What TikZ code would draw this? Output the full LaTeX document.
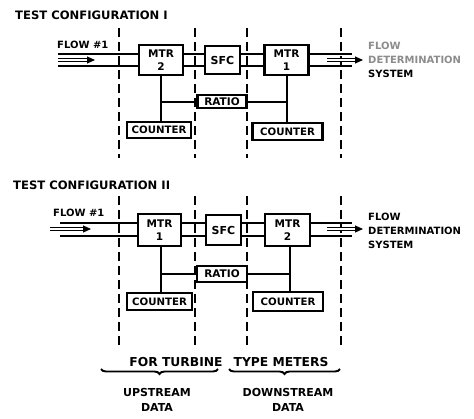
\documentclass[tikz,border=0pt]{standalone}
\usepackage{fontspec}
\setmainfont{DejaVu Sans}
\usetikzlibrary{arrows.meta,decorations.pathreplacing,calc}
\begin{document}
\begin{tikzpicture}[x=1pt,y=-1pt,
 box/.style={draw, line width=2.1pt, inner sep=0pt, align=center, font=\bfseries\fontsize{10.5}{13}\selectfont},
 pipe/.style={line width=2pt},
 wire/.style={line width=2pt},
 bound/.style={line width=2pt, dash pattern=on 9pt off 5pt},
 flow/.style={line width=1pt, double, double distance=1.6pt, -{Triangle[length=8pt,width=7pt]}},
 lab/.style={inner sep=0pt, font=\bfseries\fontsize{10}{14}\selectfont, align=left},
 title/.style={inner sep=0pt, anchor=west, font=\bfseries\fontsize{11.6}{14}\selectfont},
 note/.style={inner sep=0pt, align=center, font=\bfseries\fontsize{11}{15}\selectfont},
 brc/.style={decorate, decoration={brace, mirror, amplitude=5pt}, line width=1.9pt},
 ]
\useasboundingbox (0,0) rectangle (474,418);

% ---------------- Configuration I ----------------
\node[title] (titleI) at (15,15) {TEST CONFIGURATION I};
\foreach \x/\n in {119/a,195/b,247/c,341/d}{
  \draw[bound] (\x,28) -- (\x,158);
}
\node[box, minimum width=44pt, minimum height=30pt] (mA) at (161,60) {MTR\\2};
\node[box, minimum width=35pt, minimum height=28pt, font=\bfseries\fontsize{11}{13}\selectfont] (sA) at (222.5,60) {SFC};
\node[box, minimum width=44pt, minimum height=30pt] (mB) at (286.5,60) {MTR\\1};
\node[box, minimum width=49pt, minimum height=13pt, font=\bfseries\fontsize{10.5}{12}\selectfont] (rA) at (222,101.5) {RATIO};
\node[box, minimum width=64pt, minimum height=16pt, font=\bfseries\fontsize{10.2}{12}\selectfont] (cA1) at (159,130) {COUNTER};
\node[box, minimum width=70pt, minimum height=17pt, font=\bfseries\fontsize{10.2}{12}\selectfont] (cA2) at (287.5,131.5) {COUNTER};
\coordinate (inA) at (58,60);
\coordinate (outA) at (352,60);
\coordinate (arA1) at (58,60);
\coordinate (arA2) at (95,60);
\coordinate (arA3) at (327,60);
\coordinate (arA4) at (363,60);
\foreach \s in {6,-6}{
  \draw[pipe] ([yshift=\s pt]inA) -- ([yshift=\s pt]mA.west);
  \draw[pipe] ([yshift=\s pt]mA.east) -- ([yshift=\s pt]sA.west);
  \draw[pipe] ([yshift=\s pt]sA.east) -- ([yshift=\s pt]mB.west);
  \draw[pipe] ([yshift=\s pt]mB.east) -- ([yshift=\s pt]outA);
}
\draw[flow] (arA1) -- (arA2);
\draw[flow] (arA3) -- (arA4);
\draw[wire] (mA.south) -- (mA.south |- cA1.north);
\draw[wire] (mB.south) -- (mB.south |- cA2.north);
\draw[wire] (mA.south |- rA.west) -- (rA.west);
\draw[wire] (rA.east) -- (mB.south |- rA.east);
\node[lab] (fA) at (57,45) [anchor=west] {FLOW \#1};
\node[lab, anchor=west] (dA) at (368,59.5) {\textcolor{black!45}{FLOW}\\\textcolor{black!45}{DETERMINATION}\\SYSTEM};

% ---------------- Configuration II ----------------
\node[title] (titleII) at (13,185) {TEST CONFIGURATION II};
\foreach \x/\n in {119/a,195/b,247/c,341/d}{
  \draw[bound] (\x,196) -- (\x,348);
}
\node[box, minimum width=43pt, minimum height=32pt] (mC) at (159.5,230) {MTR\\1};
\node[box, minimum width=35pt, minimum height=30pt, font=\bfseries\fontsize{11}{13}\selectfont] (sC) at (223.5,230) {SFC};
\node[box, minimum width=45pt, minimum height=32pt] (mD) at (287.5,230) {MTR\\2};
\node[box, minimum width=50pt, minimum height=16pt, font=\bfseries\fontsize{10.5}{12}\selectfont] (rC) at (222,274) {RATIO};
\node[box, minimum width=65pt, minimum height=17pt, font=\bfseries\fontsize{10.2}{12}\selectfont] (cC1) at (159.5,301.5) {COUNTER};
\node[box, minimum width=70pt, minimum height=19pt, font=\bfseries\fontsize{10.2}{12}\selectfont] (cC2) at (288,301.5) {COUNTER};
\coordinate (inC) at (60,229.5);
\coordinate (outC) at (352,229.5);
\coordinate (arC1) at (50,229);
\coordinate (arC2) at (91,229);
\coordinate (arC3) at (327,229);
\coordinate (arC4) at (363,229);
\foreach \s in {6.5,-6.5}{
  \draw[pipe] ([yshift=\s pt]inC) -- ([yshift=\s pt]mC.west |- inC);
  \draw[pipe] ([yshift=\s pt]mC.east |- inC) -- ([yshift=\s pt]sC.west |- inC);
  \draw[pipe] ([yshift=\s pt]sC.east |- inC) -- ([yshift=\s pt]mD.west |- inC);
  \draw[pipe] ([yshift=\s pt]mD.east |- inC) -- ([yshift=\s pt]outC);
}
\draw[flow] (arC1) -- (arC2);
\draw[flow] (arC3) -- (arC4);
\draw[wire] (161,0 |- mC.south) -- (161,0 |- cC1.north);
\draw[wire] (290,0 |- mD.south) -- (290,0 |- cC2.north);
\draw[wire] (161,0 |- rC.west) -- (rC.west);
\draw[wire] (rC.east) -- (290,0 |- rC.east);
\node[lab, anchor=west] (fC) at (53,213) {FLOW \#1};
\node[lab, anchor=west] (dC) at (368,231) {FLOW\\DETERMINATION\\SYSTEM};

% ---------------- Bottom annotation ----------------
\node[note, font=\bfseries\fontsize{12.3}{15}\selectfont] (ft) at (176,362) {FOR TURBINE};
\node[note, font=\bfseries\fontsize{12.3}{15}\selectfont] (tm) at (281,362) {TYPE METERS};
\draw[brc] (101,369) -- (218,369);
\draw[brc] (229,369) -- (340,369);
\node[note] (up) at (157,399.5) {UPSTREAM\\DATA};
\node[note] (dn) at (288,399.5) {DOWNSTREAM\\DATA};
\end{tikzpicture}
\end{document}
